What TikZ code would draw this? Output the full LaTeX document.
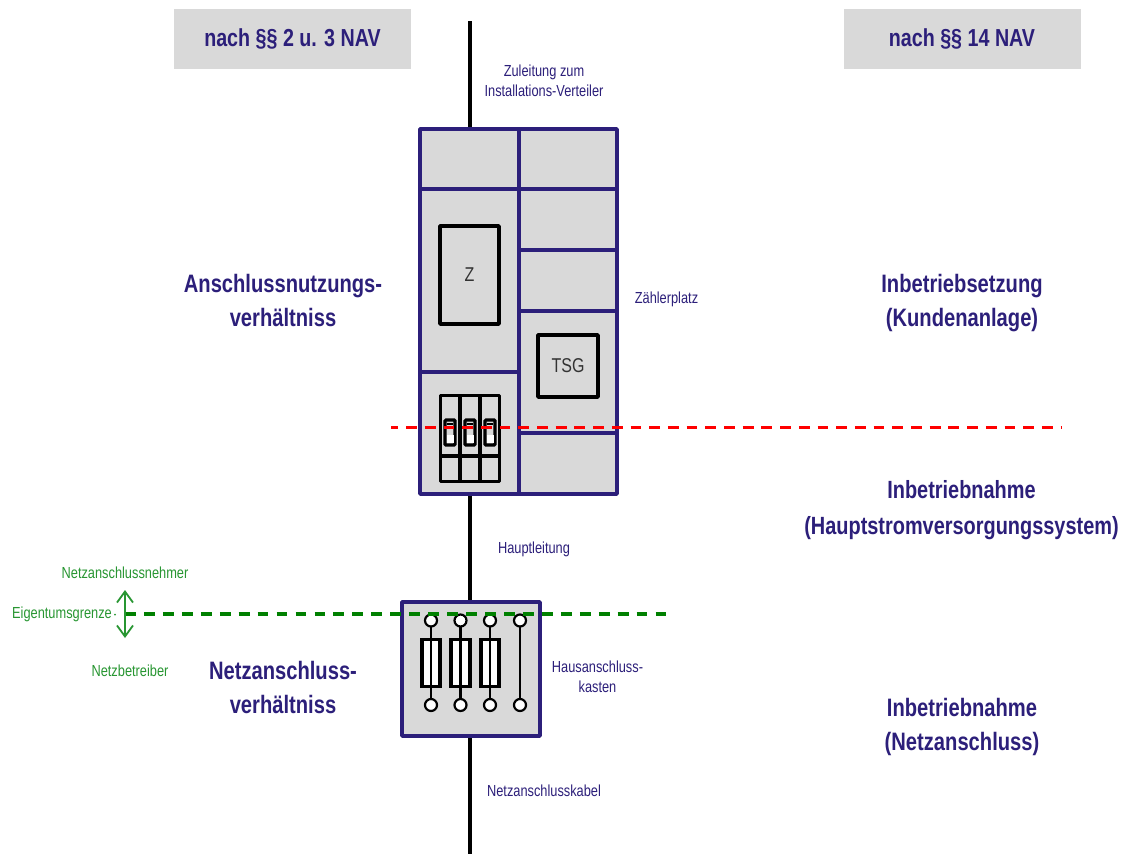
\documentclass[tikz,border=0pt]{standalone}
\usepackage{fontspec}
\setmainfont[FakeStretch=0.8]{Liberation Sans}
\usetikzlibrary{arrows.meta}
\definecolor{navy}{RGB}{44,31,122}
\definecolor{panel}{RGB}{217,217,217}
\definecolor{headbg}{RGB}{217,217,217}
\definecolor{gline}{RGB}{0,128,0}
\definecolor{gtext}{RGB}{40,150,50}
\tikzset{
  x=1pt,y=-1pt,
  cell/.style={draw=navy,line width=3.6pt,fill=panel,line join=round},
  divider/.style={draw=navy,line width=3.6pt},
  part/.style={draw=black,line width=3.6pt,line join=round},
  thinblk/.style={draw=black,line width=2.5pt},
  brk/.style={draw=black,line width=3.2pt},
  wire/.style={draw=black,line width=4.5pt},
  small/.style={text=navy,font=\fontsize{16}{20}\selectfont,align=center,inner sep=0pt},
  big/.style={text=navy,font=\bfseries\fontsize{25.2}{34}\selectfont,align=center,inner sep=0pt},
  head/.style={fill=headbg,text=navy,font=\bfseries\fontsize{24.6}{30}\selectfont,minimum width=237pt,minimum height=60pt,inner sep=0pt},
  green/.style={text=gtext,font=\fontsize{16}{20}\selectfont,inner sep=0pt},
  term/.style={circle,draw=black,line width=2.2pt,fill=white,minimum size=12pt,inner sep=0pt},
  fuse/.style={draw=black,line width=3.6pt,fill=white,minimum width=18.5pt,minimum height=47pt,inner sep=0pt},
  gdash/.style={draw=gline,line width=3.5pt,dash pattern=on 10.8pt off 8.15pt},
  rdash/.style={draw=red,line width=3.5pt,dash pattern=on 10.8pt off 7.9pt,dash phase=3.6pt},
}
\begin{document}
\begin{tikzpicture}
\useasboundingbox (0,0) rectangle (1123,854);
\fill[white] (0,0) rectangle (1123,854);
% headers
\node[head] (h1) at (292.5,38.5) {\raisebox{-1.5pt}{nach §§ 2 u. 3 NAV}};
\node[head] (h2) at (962,38.5) {\raisebox{-1.5pt}{nach §§ 14 NAV}};
% main wires
\coordinate (wtop) at (470,21);
\coordinate (wbot) at (470,854);
\coordinate (cabTop) at (470,129);
\coordinate (cabBot) at (470,494);
\coordinate (hakTop) at (470,602);
\coordinate (hakBot) at (470,736);
\draw[wire] (wtop) -- (cabTop);
\draw[wire] (cabBot) -- (hakTop);
\draw[wire] (hakBot) -- (wbot);
% cabinet
\draw[cell] (420,129) rectangle (617,494);
\draw[divider] (519,129) -- (519,494);
\draw[divider] (420,189) -- (617,189);
\draw[divider] (519,250) -- (617,250);
\draw[divider] (519,311) -- (617,311);
\draw[divider] (420,372) -- (519,372);
\draw[divider] (519,433) -- (617,433);
% meter
\node[part,minimum width=59pt,minimum height=98pt,inner sep=0pt,font=\fontsize{20}{24}\selectfont,text=black!80] (z) at (469.5,275) {Z};
\node[part,minimum width=60pt,minimum height=62pt,inner sep=0pt,font=\fontsize{20}{24}\selectfont,text=black!80] (tsg) at (568,366) {TSG};
% breakers
\draw[part] (440.5,395.5) rectangle (499.5,481.5);
\draw[brk] (460,395.5) -- (460,481.5);
\draw[brk] (480,395.5) -- (480,481.5);
\draw[brk] (440.5,456) -- (499.5,456);
\foreach \x in {450,470,490}{
  \draw[brk,fill=panel,rounded corners=1pt] (\x-5,420) rectangle (\x+5,445);
  \fill[white] (\x-3.5,435) rectangle (\x+3.5,443);
  \draw[black,line width=1.5pt] (\x-3,424) -- (\x+3,424);
}
% red line
\coordinate (r1) at (391,427.5);
\coordinate (r2) at (1062,427.5);
\draw[rdash] (r1) -- (r2);
% house connection box
\draw[cell] (402,602) rectangle (540,736);
\foreach \x in {431,460.5,490}{
  \node[fuse] (f\x) at (\x,663) {};
  \draw[thinblk] (\x,620.5) -- (\x,705);
  \node[term] at (\x,620.5) {};
  \node[term] at (\x,705) {};
}
\draw[thinblk] (520,620.5) -- (520,705);
\node[term] (n1) at (520,620.5) {};
\node[term] (n2) at (520,705) {};
% green
\coordinate (g1) at (125,614);
\coordinate (g2) at (667,614);
\draw[gdash] (g1) -- (g2);
\coordinate (au) at (125,590);
\coordinate (ad) at (125,638);
\draw[gtext,line width=1.8pt,{Straight Barb[length=11pt,width=16pt]}-{Straight Barb[length=11pt,width=16pt]}] (au) -- (ad);
\node[green] (e1) at (125,573) {Netzanschlussnehmer};
\node[green,anchor=west] (e2) at (12,614.5) {Eigentumsgrenze};
\node[green] (e3) at (130,670.5) {Netzbetreiber};
\fill[gtext] (115,614.5) circle (1pt);
% small labels
\node[small] (l1) at (544,81) {Zuleitung zum\\Installations-Verteiler};
\node[small] (l2) at (666.5,299.5) {Zählerplatz};
\node[small] (l3) at (534,549) {Hauptleitung};
\node[small] (l4) at (597.5,676.5) {Hausanschluss-\\kasten};
\node[small] (l5) at (544,790.5) {Netzanschlusskabel};
% big labels
\node[big] (b1) at (283,300) {Anschlussnutzungs-\\verhältniss};
\node[big] (b2) at (283,687.5) {Netzanschluss-\\verhältniss};
\node[big] (b3) at (962,303) {Inbetriebsetzung\\(Kundenanlage)};
\node[big,font=\bfseries\fontsize{24.9}{36}\selectfont] (b4) at (961.5,510) {Inbetriebnahme\\(Hauptstromversorgungssystem)};
\node[big] (b5) at (962,727) {Inbetriebnahme\\(Netzanschluss)};
\end{tikzpicture}
\end{document}
